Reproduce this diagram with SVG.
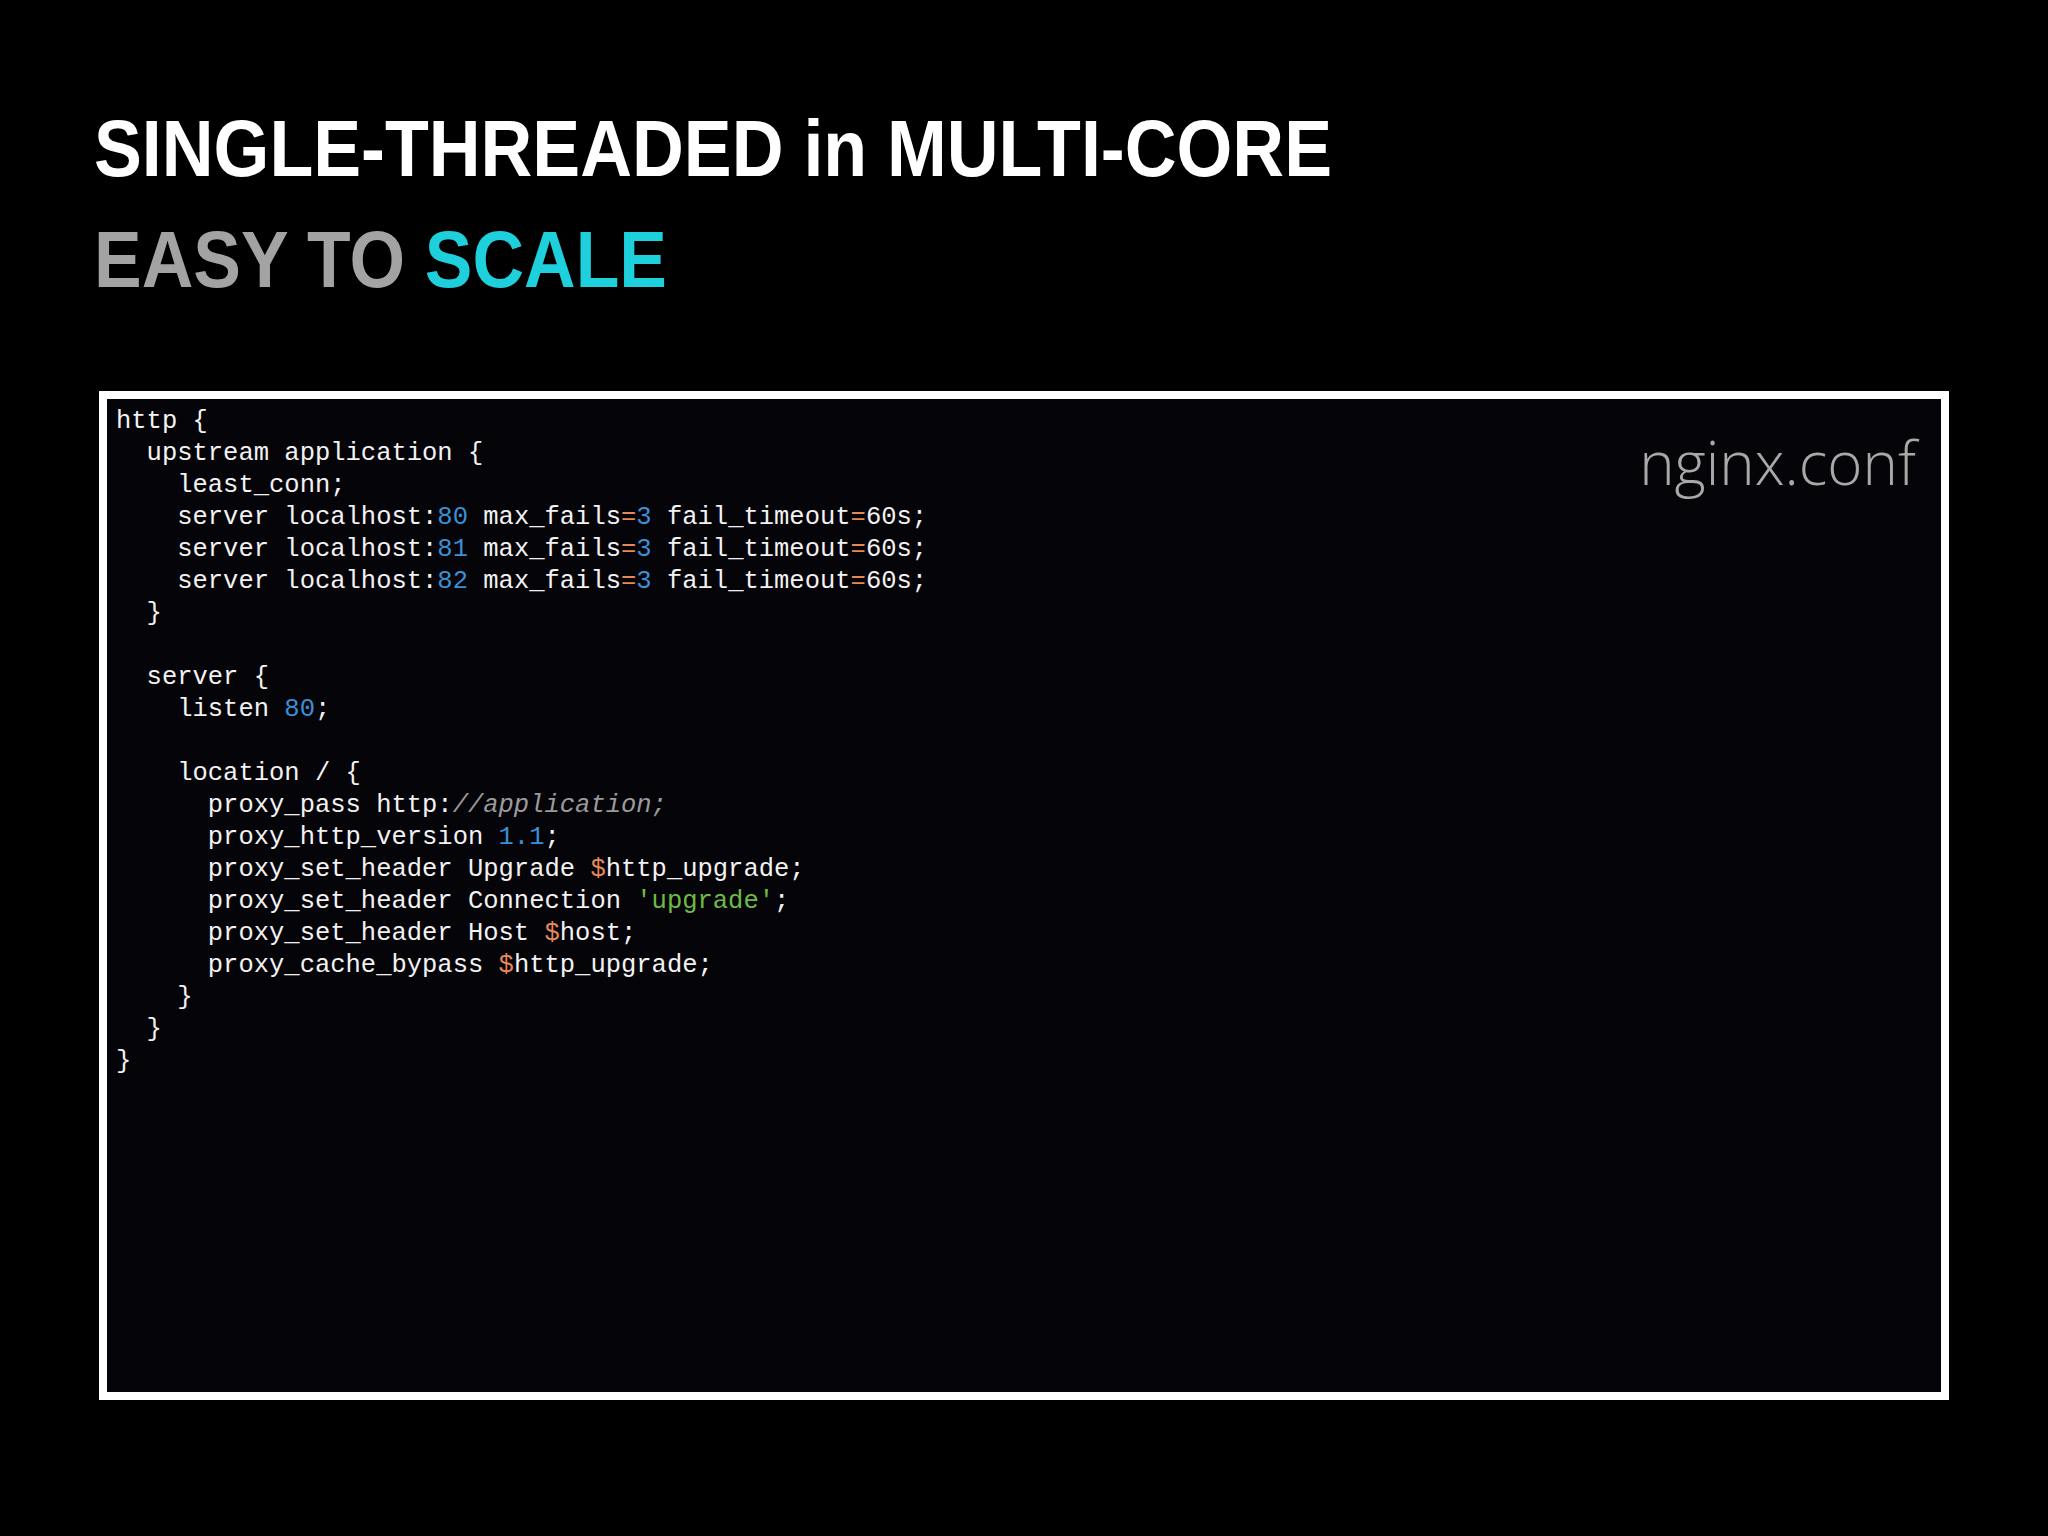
<svg xmlns="http://www.w3.org/2000/svg" width="2048" height="1536" viewBox="0 0 2048 1536">
<style>
.t{font-family:"Liberation Sans",Arial,sans-serif;font-weight:bold;font-size:80px}
.c{font-family:"Liberation Mono","DejaVu Sans Mono",monospace;font-size:25.5px;fill:#f2f2f2}
.n{fill:#3b8fd6}.o{fill:#e8875a}.s{fill:#6dbb45}.i{fill:#9a9a9a;font-style:italic}
</style>
<rect width="2048" height="1536" fill="#000"/>
<g id="title">
<text class="t" x="94" y="176" fill="#fff" textLength="1238" lengthAdjust="spacingAndGlyphs">SINGLE-THREADED in MULTI-CORE</text>
<text class="t" x="94" y="287" fill="#a3a3a3" textLength="573" lengthAdjust="spacingAndGlyphs">EASY TO <tspan fill="#1ecfdc">SCALE</tspan></text>
</g>
<g id="codebox">
<rect x="103" y="395" width="1842" height="1001" fill="#050408" stroke="#fff" stroke-width="8"/>
<text x="1916" y="485" text-anchor="end" font-family="'Open Sans','Liberation Sans',sans-serif" font-weight="300" font-size="60" fill="#a8a8a8">nginx.conf</text>
<text class="c" xml:space="preserve">
<tspan x="116" y="428">http {</tspan>
<tspan x="116" y="460">  upstream application {</tspan>
<tspan x="116" y="492">    least_conn;</tspan>
<tspan x="116" y="524">    server localhost:<tspan class="n">80</tspan> max_fails<tspan class="o">=</tspan><tspan class="n">3</tspan> fail_timeout<tspan class="o">=</tspan>60s;</tspan>
<tspan x="116" y="556">    server localhost:<tspan class="n">81</tspan> max_fails<tspan class="o">=</tspan><tspan class="n">3</tspan> fail_timeout<tspan class="o">=</tspan>60s;</tspan>
<tspan x="116" y="588">    server localhost:<tspan class="n">82</tspan> max_fails<tspan class="o">=</tspan><tspan class="n">3</tspan> fail_timeout<tspan class="o">=</tspan>60s;</tspan>
<tspan x="116" y="620">  }</tspan>
<tspan x="116" y="684">  server {</tspan>
<tspan x="116" y="716">    listen <tspan class="n">80</tspan>;</tspan>
<tspan x="116" y="780">    location / {</tspan>
<tspan x="116" y="812">      proxy_pass http:<tspan class="i">//application;</tspan></tspan>
<tspan x="116" y="844">      proxy_http_version <tspan class="n">1.1</tspan>;</tspan>
<tspan x="116" y="876">      proxy_set_header Upgrade <tspan class="o">$</tspan>http_upgrade;</tspan>
<tspan x="116" y="908">      proxy_set_header Connection <tspan class="s">'upgrade'</tspan>;</tspan>
<tspan x="116" y="940">      proxy_set_header Host <tspan class="o">$</tspan>host;</tspan>
<tspan x="116" y="972">      proxy_cache_bypass <tspan class="o">$</tspan>http_upgrade;</tspan>
<tspan x="116" y="1004">    }</tspan>
<tspan x="116" y="1036">  }</tspan>
<tspan x="116" y="1068">}</tspan>
</text>
</g>
</svg>
